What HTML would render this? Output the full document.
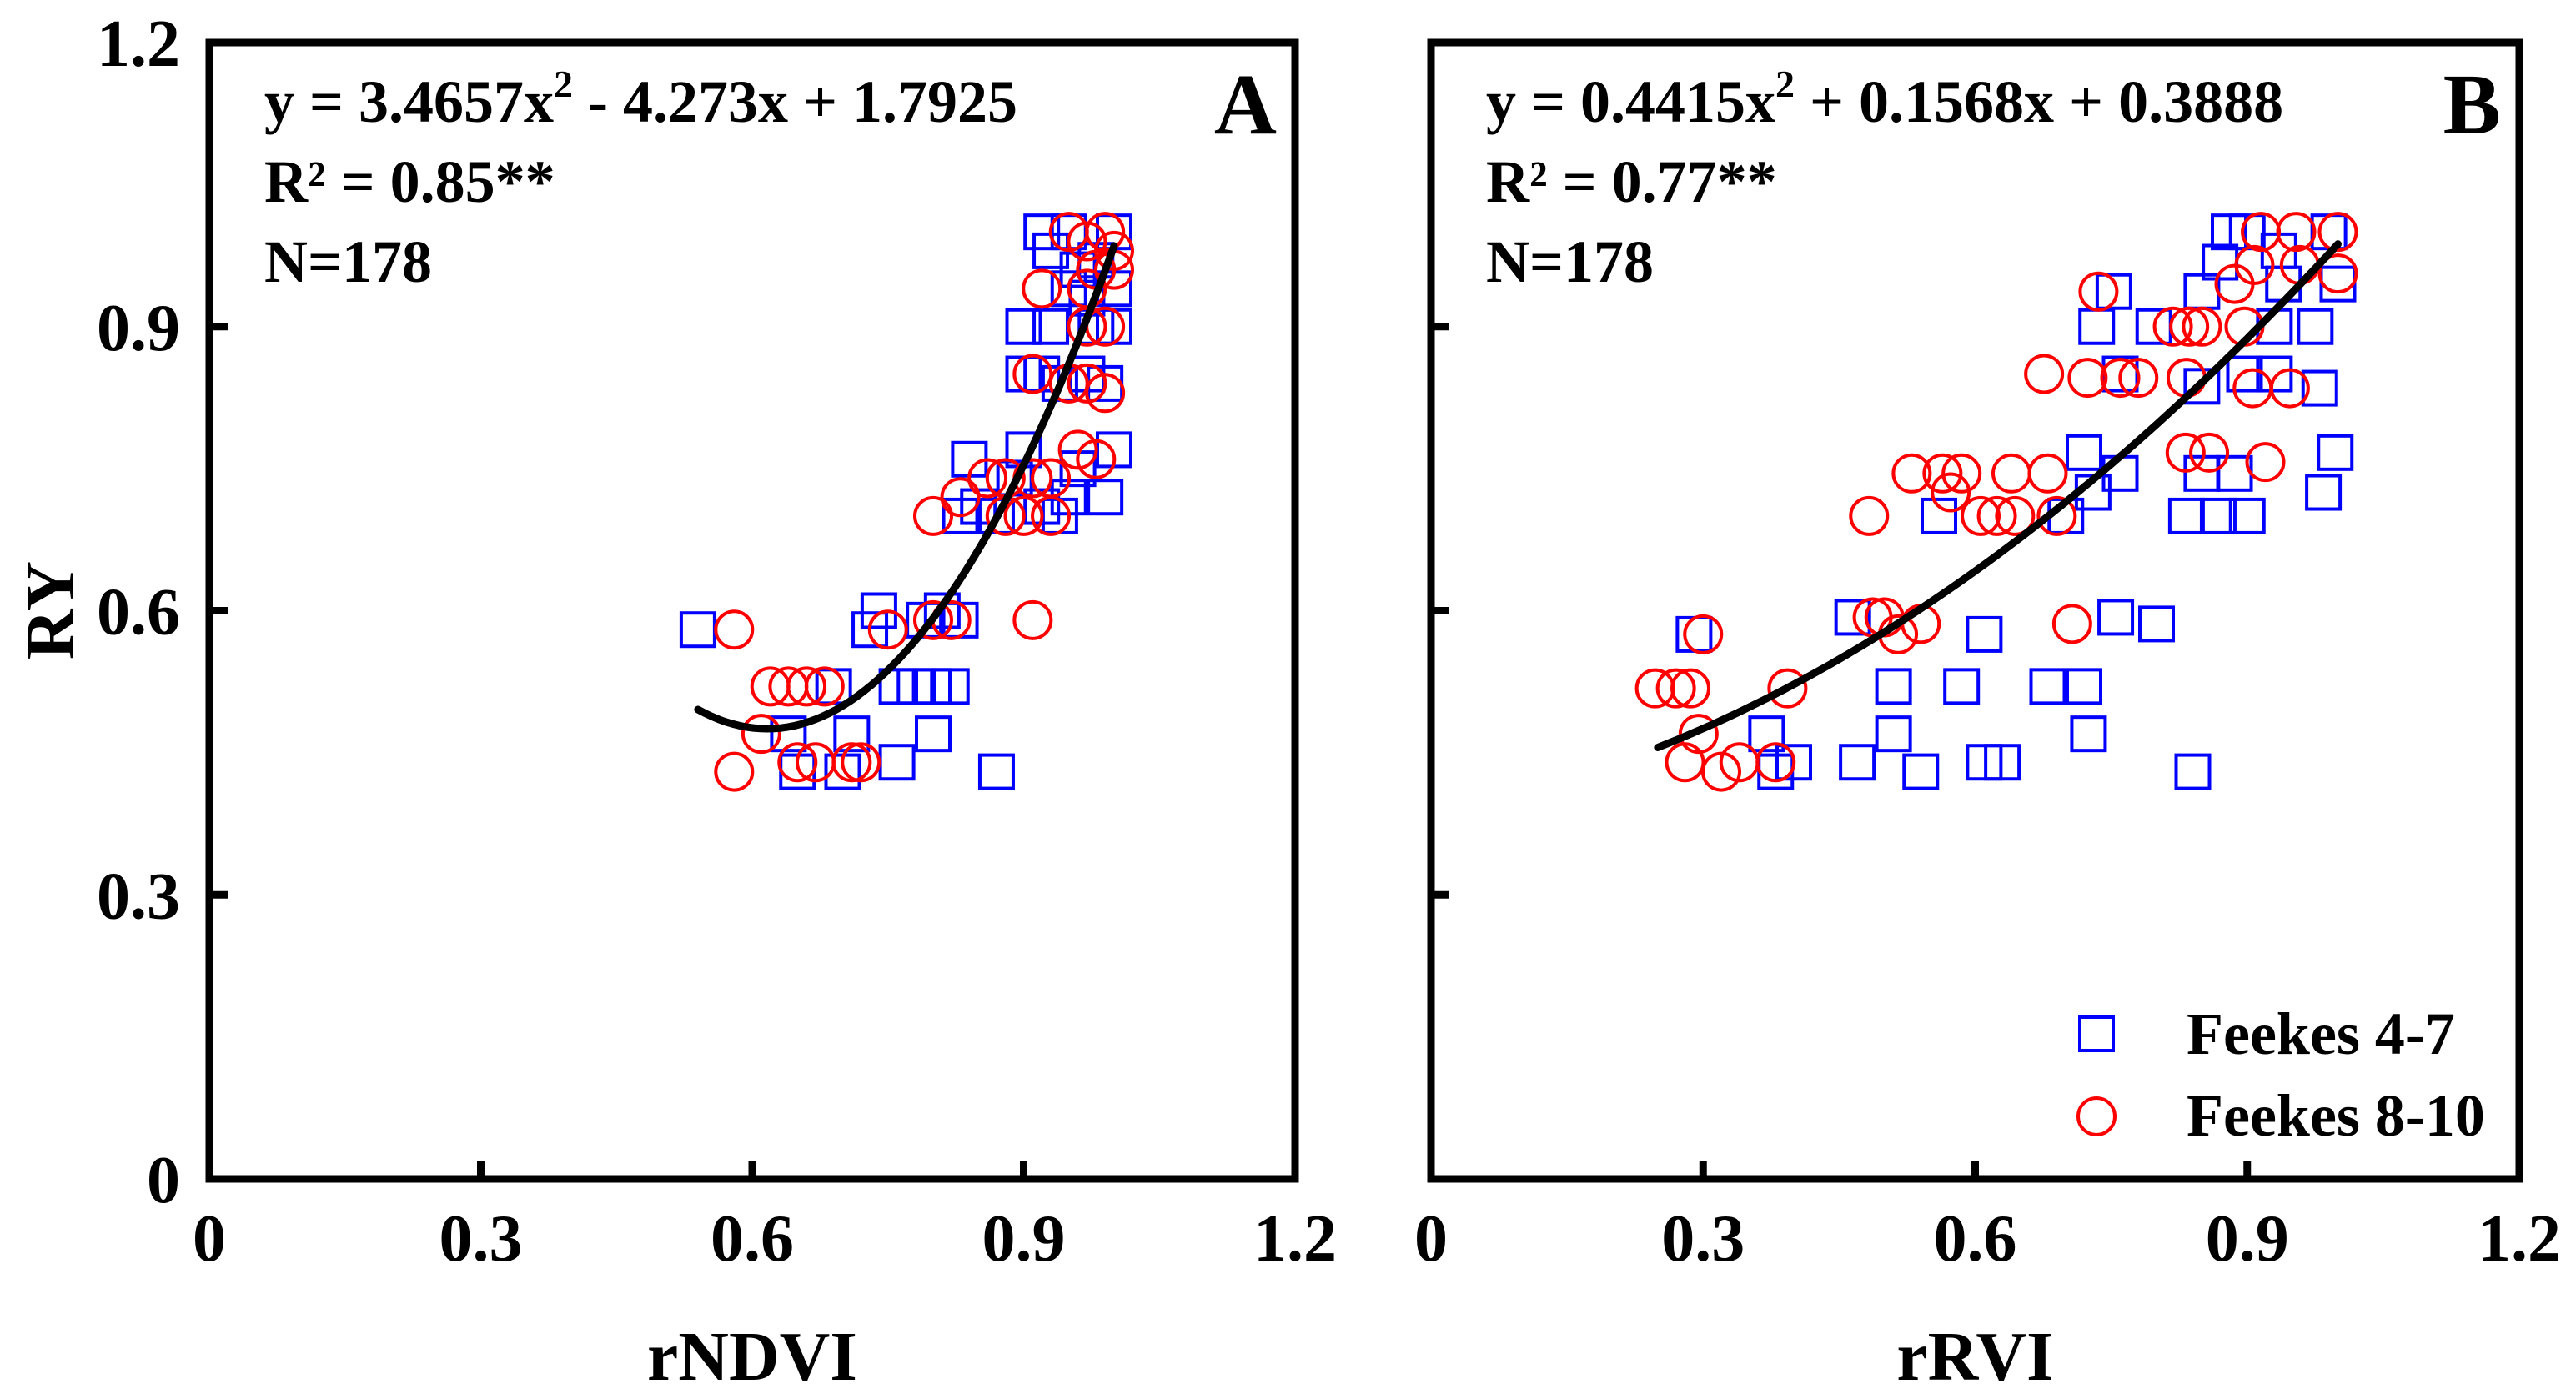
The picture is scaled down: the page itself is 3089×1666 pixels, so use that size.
<!DOCTYPE html>
<html><head><meta charset="utf-8">
<style>
html,body{margin:0;padding:0;background:#fff;}
svg{display:block;font-family:"Liberation Serif",serif;font-weight:bold;}
</style></head>
<body>
<svg id="chart" width="3089" height="1666" viewBox="0 0 3089 1666" xmlns="http://www.w3.org/2000/svg"></svg>
<script>
const xTicks = [0, 0.3, 0.6, 0.9, 1.2];
const yTicks = [0, 0.3, 0.6, 0.9, 1.2];
const tickLabels = ["0", "0.3", "0.6", "0.9", "1.2"];
const coefA = [3.4657, -4.273, 1.7925];
const coefB = [0.4415, 0.1568, 0.3888];
const rangeA = [0.54, 1.0];
const rangeB = [0.25, 1.0];
const sqAx = [0.54,0.65,0.64,0.70,0.71,0.69,0.73,0.74,0.76,0.76,0.78,0.80,0.82,0.80,0.79,0.81,0.83,0.87,0.84,0.85,0.83,0.87,0.89,0.90,0.92,0.94,0.95,0.96,0.99,1.00,0.90,0.92,0.94,0.97,0.99,0.90,0.93,0.98,1.00,0.95,0.97,1.00,0.92,0.93,0.95,1.00,0.98,0.96];
const sqAy = [0.58,0.43,0.47,0.43,0.47,0.52,0.58,0.60,0.44,0.52,0.52,0.52,0.52,0.47,0.59,0.60,0.59,0.43,0.76,0.71,0.70,0.70,0.74,0.77,0.71,0.70,0.72,0.75,0.72,0.77,0.85,0.85,0.84,0.85,0.84,0.90,0.90,0.90,0.90,0.94,0.93,0.94,1.00,0.98,1.00,1.00,0.97,0.96];
const ciAx = [0.58,0.58,0.61,0.62,0.64,0.66,0.68,0.65,0.67,0.71,0.72,0.75,0.80,0.82,0.91,0.80,0.83,0.86,0.88,0.91,0.93,0.88,0.90,0.93,0.96,0.98,0.91,0.95,0.97,0.99,0.97,0.99,0.92,0.97,0.98,1.00,0.95,0.97,0.99,1.00];
const ciAy = [0.58,0.43,0.47,0.52,0.52,0.52,0.52,0.44,0.44,0.44,0.44,0.58,0.59,0.59,0.59,0.70,0.72,0.74,0.74,0.74,0.74,0.70,0.70,0.70,0.77,0.76,0.85,0.84,0.84,0.83,0.90,0.90,0.94,0.94,0.96,0.96,1.00,0.99,1.00,0.98];
const sqBx = [0.29,0.37,0.38,0.40,0.465,0.47,0.51,0.51,0.54,0.61,0.585,0.61,0.63,0.68,0.72,0.725,0.755,0.80,0.84,0.56,0.72,0.73,0.76,0.70,0.734,0.753,0.76,0.797,0.833,0.868,0.90,0.85,0.886,0.984,0.997,0.85,0.897,0.93,0.98,0.93,0.975,0.85,0.87,0.88,0.94,1.0,0.99,0.90,0.935];
const sqBy = [0.575,0.47,0.43,0.44,0.593,0.44,0.52,0.47,0.43,0.575,0.52,0.44,0.44,0.52,0.52,0.47,0.593,0.586,0.43,0.70,0.767,0.725,0.745,0.70,0.90,0.937,0.85,0.90,0.70,0.70,0.70,0.745,0.745,0.725,0.767,0.837,0.85,0.85,0.835,0.90,0.90,0.937,0.968,1.0,0.945,0.945,1.0,1.0,0.98];
const ciBx = [0.247,0.27,0.286,0.30,0.295,0.28,0.32,0.34,0.38,0.393,0.483,0.53,0.564,0.585,0.573,0.487,0.50,0.54,0.515,0.606,0.624,0.644,0.69,0.64,0.68,0.707,0.676,0.724,0.76,0.78,0.736,0.818,0.836,0.85,0.833,0.832,0.858,0.92,0.906,0.947,0.897,0.886,0.908,0.954,1.0,1.0,0.915,0.958];
const ciBy = [0.518,0.518,0.518,0.575,0.47,0.44,0.43,0.44,0.44,0.518,0.70,0.745,0.745,0.745,0.725,0.593,0.593,0.586,0.575,0.70,0.70,0.70,0.70,0.745,0.745,0.586,0.85,0.846,0.846,0.846,0.937,0.90,0.90,0.90,0.846,0.767,0.767,0.757,0.835,0.835,0.90,0.945,0.965,1.0,1.0,0.956,1.0,0.965];

const svg = document.getElementById('chart');
const NS = 'http://www.w3.org/2000/svg';
function mk(tag, attrs, parent){const e=document.createElementNS(NS,tag);for(const k in attrs)e.setAttribute(k,attrs[k]);(parent||svg).appendChild(e);return e;}
const Y0=1414, Y1=51;
const yS = v => Y0 - v/1.2*(Y0-Y1);

function panel(px0, px1, sqx, sqy, cix, ciy, coef, range, eqText, r2Text, letter, xTitle, showYLabels, name){
  const g = mk('g',{});
  
  
  const xS = v => px0 + v/1.2*(px1-px0);
  [1,2,3].forEach(i=>{
    const t=mk('line',{x1:xS(xTicks[i]),x2:xS(xTicks[i]),y1:Y0,y2:Y0-22,stroke:'#000','stroke-width':9},g);
    
    
    const t2=mk('line',{x1:px0,x2:px0+22,y1:yS(yTicks[i]),y2:yS(yTicks[i]),stroke:'#000','stroke-width':9},g);
    
    
  });
  xTicks.forEach((v,i)=>{
    const t=mk('text',{x:xS(v),y:1512,'font-size':80,'text-anchor':'middle'},g);
    t.textContent=tickLabels[i];
    
    
  });
  if(showYLabels){
    yTicks.forEach((v,i)=>{
      const t=mk('text',{x:216,y:yS(v)+28,'font-size':80,'text-anchor':'end'},g);
      t.textContent=tickLabels[i];
      
      
    });
  }
  sqx.forEach((v,i)=>{
    const s=mk('rect',{x:xS(v)-20,y:yS(sqy[i])-20,width:40,height:40,fill:'none',stroke:'#0000ff','stroke-width':4},g);
    
    
  });
  cix.forEach((v,i)=>{
    const c=mk('circle',{cx:xS(v),cy:yS(ciy[i]),r:22,fill:'none',stroke:'#ff0000','stroke-width':4},g);
    
    
  });
  let d='';
  for(let k=0;k<=60;k++){
    const x=range[0]+(range[1]-range[0])*k/60;
    const y=coef[0]*x*x+coef[1]*x+coef[2];
    d+=(k?'L':'M')+xS(x).toFixed(1)+','+yS(y).toFixed(1);
  }
  const p=mk('path',{d:d,fill:'none',stroke:'#000','stroke-width':9,'stroke-linecap':'round'},g);
  
  
  const f=mk('rect',{x:px0,y:Y1,width:px1-px0,height:Y0-Y1,fill:'none',stroke:'#000','stroke-width':9},g);
  
  
  const eq=mk('text',{x:px0+66,y:146,'font-size':72},g);
  eq.innerHTML=eqText;
  
  
  const r2=mk('text',{x:px0+66,y:242,'font-size':72},g);
  r2.textContent=r2Text;
  
  
  const n=mk('text',{x:px0+66,y:338,'font-size':72},g);
  n.textContent='N=178';
  
  
  const L=mk('text',{x:px1-22,y:160,'font-size':104,'text-anchor':'end'},g);
  L.textContent=letter;
  
  
  const xt=mk('text',{x:(px0+px1)/2,y:1655,'font-size':84,'text-anchor':'middle'},g);
  xt.textContent=xTitle;
  
  
}

panel(251,1553,sqAx,sqAy,ciAx,ciAy,coefA,rangeA,'y = 3.4657x<tspan dy="-30" font-size="46">2</tspan><tspan dy="30"> - 4.273x + 1.7925</tspan>','R² = 0.85**','A','rNDVI',true,'panel-a');
panel(1716,3021,sqBx,sqBy,ciBx,ciBy,coefB,rangeB,'y = 0.4415x<tspan dy="-30" font-size="46">2</tspan><tspan dy="30"> + 0.1568x + 0.3888</tspan>','R² = 0.77**','B','rRVI',false,'panel-b');

const yt=mk('text',{x:0,y:0,'font-size':84,'text-anchor':'middle',transform:'translate(88,732) rotate(-90)'});
yt.textContent='RY';



const lg=mk('g',{});


const ls=mk('rect',{x:2494,y:1220,width:40,height:40,fill:'none',stroke:'#0000ff','stroke-width':4},lg);


const lc=mk('circle',{cx:2514,cy:1339,r:22,fill:'none',stroke:'#ff0000','stroke-width':4},lg);


const lt1=mk('text',{x:2622,y:1264,'font-size':72},lg);
lt1.textContent='Feekes 4-7';


const lt2=mk('text',{x:2622,y:1362,'font-size':72},lg);
lt2.textContent='Feekes 8-10';


</script>
</body></html>
